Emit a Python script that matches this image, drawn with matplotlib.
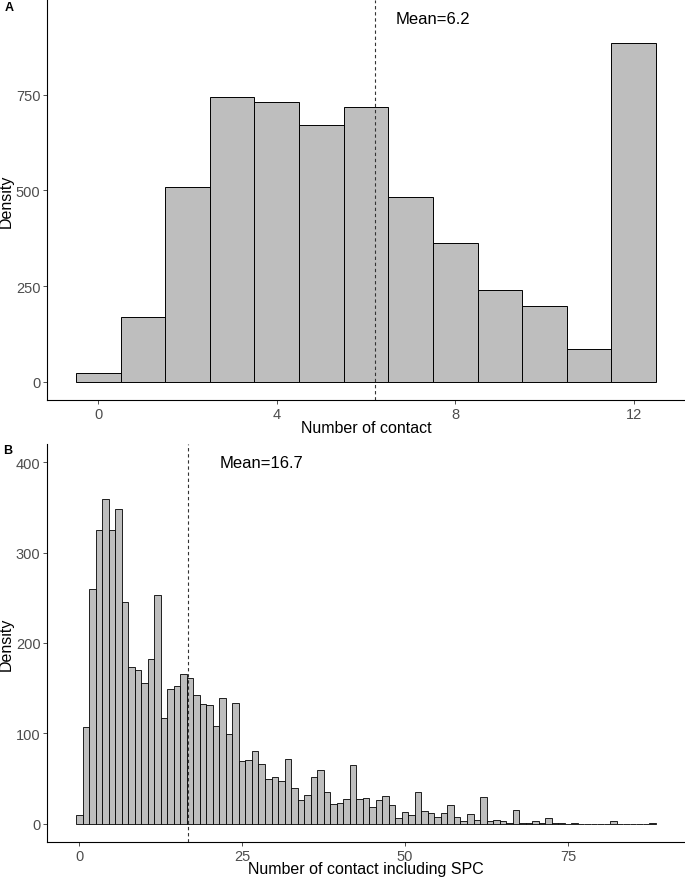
import numpy as np
import matplotlib
matplotlib.use('Agg')
import matplotlib.pyplot as plt

plt.rcParams['font.family'] = ['Liberation Sans', 'DejaVu Sans']

# panel A: number of contact
contacts_a = list(range(0, 13))
density_a = [22, 170, 510, 745, 732, 671, 719, 482, 363, 239, 198, 85, 884]
mean_a = 6.2

# panel B: number of contact including SPC
contacts_b = list(range(0, 89))
density_b = [10, 107, 260, 325, 359, 325, 348, 245, 174, 170,
             156, 182, 253, 117, 149, 153, 166, 161, 142, 133,
             132, 108, 139, 99, 134, 69, 71, 81, 66, 50,
             52, 47, 72, 40, 26, 32, 52, 60, 35, 22,
             23, 27, 65, 27, 29, 19, 26, 31, 21, 7,
             13, 10, 35, 14, 12, 8, 12, 21, 8, 3,
             11, 4, 30, 3, 4, 3, 1, 15, 1, 1,
             3, 1, 7, 1, 1, 0, 1, 0, 0, 0,
             0, 0, 3, 0, 0, 0, 0, 0, 1]
mean_b = 16.7

FILL = '#BEBEBE'
TICK_COL = '#4D4D4D'

W, H = 685, 879
fig = plt.figure(figsize=(W / 100, H / 100), dpi=100)


def px_axes(left, top, right, bottom):
    return fig.add_axes([left / W, 1 - bottom / H, (right - left) / W, (bottom - top) / H])


def style(ax):
    for s in ['top', 'right']:
        ax.spines[s].set_visible(False)
    for s in ['left', 'bottom']:
        ax.spines[s].set_color('black')
        ax.spines[s].set_linewidth(0.8)
    ax.tick_params(axis='both', length=2.75, width=0.6, color='#333333',
                   labelcolor=TICK_COL, labelsize=10.5, pad=2.0)
    ax.set_ylabel('Density', fontsize=11.5, color='black')
    ax.yaxis.set_label_coords(-0.052, 0.5)


ax1 = px_axes(47, 1, 685, 401)
ax1.bar(contacts_a, density_a, width=1, color=FILL, edgecolor='black', linewidth=0.7)
ax1.axvline(mean_a, color='#333333', linestyle=(0, (3, 2.5)), linewidth=0.8)
ax1.text(7.5, 950, 'Mean=%.1f' % mean_a, fontsize=12, ha='center', va='center')
ax1.set_xlim(-1.15, 13.15)
ax1.set_ylim(-47.5, 997.5)
ax1.set_xticks([0, 4, 8, 12])
ax1.set_yticks([0, 250, 500, 750])
style(ax1)
ax1.set_xlabel('Number of contact', fontsize=11.5)
ax1.xaxis.set_label_coords(0.5, -0.05)

ax2 = px_axes(47, 445, 685, 843)
ax2.bar(contacts_b, density_b, width=1, color=FILL, edgecolor='black', linewidth=0.6)
ax2.axvline(mean_b, color='#333333', linestyle=(0, (3, 2.5)), linewidth=0.8)
ax2.text(28, 400, 'Mean=%.1f' % mean_b, fontsize=12, ha='center', va='center')
ax2.set_xlim(-4.95, 92.95)
ax2.set_ylim(-20, 420)
ax2.set_xticks([0, 25, 50, 75])
ax2.set_yticks([0, 100, 200, 300, 400])
style(ax2)
ax2.set_xlabel('Number of contact including SPC', fontsize=11.5)
ax2.xaxis.set_label_coords(0.5, -0.048)

fig.text(5 / W, 1 - 8 / H, 'A', fontsize=9, fontweight='bold', ha='left', va='center')
fig.text(3 / W, 1 - 451 / H, 'B', fontsize=9, fontweight='bold', ha='left', va='center')

fig.savefig('out.png', dpi=100)
